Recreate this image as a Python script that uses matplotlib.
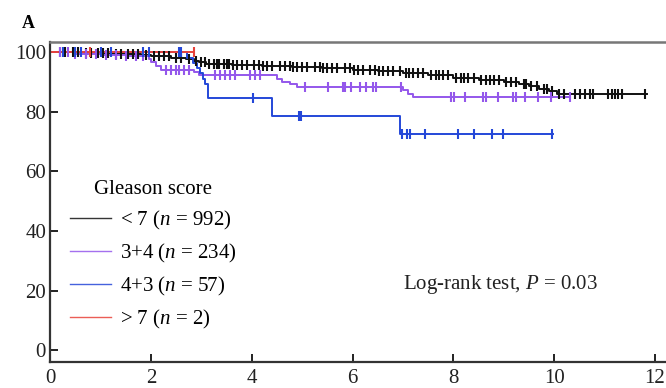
import numpy as np
import matplotlib.pyplot as plt
from matplotlib.lines import Line2D

plt.rcParams['font.family'] = ['Liberation Serif', 'DejaVu Serif']
plt.rcParams['mathtext.fontset'] = 'custom'
plt.rcParams['mathtext.rm'] = 'Liberation Serif'
plt.rcParams['mathtext.it'] = 'Liberation Serif:italic'

# Kaplan-Meier steps (time in years, survival in %)
black_t = [0, 0.6, 1.2, 1.8, 2.0, 2.4, 2.7, 2.85, 2.95, 3.1, 3.6, 4.2, 4.8, 5.4,
           6.0, 6.5, 7.0, 7.5, 8.0, 8.5, 9.0, 9.3, 9.5, 9.7, 9.9, 10.05, 11.85]
black_s = [100, 99.7, 99.4, 99.1, 98.6, 98.2, 97.7, 97.1, 96.6, 96.2, 95.8, 95.4,
           95.0, 94.6, 94.1, 93.6, 93.1, 92.3, 91.5, 90.7, 90.0, 89.4, 88.6, 87.7,
           86.9, 86.1, 86.1]
black_cens = [0.2, 0.3, 0.45, 0.55, 0.7, 0.8, 0.95, 1.05, 1.15, 1.3, 1.4, 1.55,
              1.65, 1.75, 1.9, 2.05, 2.15, 2.25, 2.35, 2.5, 2.6, 2.75, 2.9, 3.0,
              3.08, 3.15, 3.25, 3.3, 3.35, 3.45, 3.5, 3.55, 3.62, 3.7, 3.8, 3.9,
              4.05, 4.15, 4.22, 4.3, 4.4, 4.55, 4.65, 4.75, 4.82, 4.9, 5.0, 5.1,
              5.25, 5.35, 5.42, 5.5, 5.6, 5.7, 5.85, 5.95, 6.02, 6.1, 6.2, 6.35,
              6.45, 6.52, 6.6, 6.7, 6.8, 6.95, 7.05, 7.12, 7.2, 7.3, 7.4, 7.55,
              7.65, 7.72, 7.8, 7.9, 8.05, 8.15, 8.22, 8.3, 8.4, 8.55, 8.65, 8.72,
              8.8, 8.9, 9.05, 9.15, 9.25, 9.4, 9.45, 9.55, 9.65, 9.8, 9.85, 9.95,
              10.1, 10.2, 10.41, 10.51, 10.61, 10.71, 10.77, 11.07, 11.15, 11.21,
              11.27, 11.35, 11.8]

purple_t = [0, 0.5, 1.0, 1.5, 1.95, 2.0, 2.1, 2.2, 2.85, 2.95, 4.5, 4.6, 4.75,
            4.9, 7.0, 7.1, 7.2, 10.32]
purple_s = [100, 99.5, 99.0, 98.6, 97.6, 96.6, 95.5, 94.2, 93.3, 92.3, 91.2,
            90.1, 89.2, 88.5, 87.4, 86.1, 85.0, 85.0]
purple_cens = [0.2, 0.35, 0.5, 0.7, 0.9, 1.1, 1.3, 1.5, 1.7, 1.85, 2.3, 2.4,
               2.5, 2.55, 2.65, 2.75, 3.27, 3.37, 3.47, 3.57, 3.67, 3.96, 4.06,
               4.16, 5.05, 5.51, 5.81, 5.85, 5.97, 6.14, 6.26, 6.4, 6.46, 6.96,
               7.95, 8.01, 8.23, 8.59, 8.65, 8.88, 9.18, 9.24, 9.42, 9.68, 9.94,
               10.31]

blue_t = [0, 2.72, 2.84, 2.92, 2.97, 3.03, 3.08, 3.14, 4.4, 6.94, 9.97]
blue_s = [100, 98.2, 96.5, 94.7, 92.9, 91.2, 89.5, 84.5, 78.7, 72.5, 72.5]
blue_cens = [0.25, 0.5, 0.6, 1.0, 1.2, 1.85, 1.95, 2.55, 2.6, 4.02, 4.93, 4.98,
             6.98, 7.07, 7.14, 7.43, 8.1, 8.41, 8.76, 8.98, 9.95]

red_t = [0, 2.85]
red_s = [100, 100]
red_cens = [0.79, 2.85]

groups = [
    ("< 7 ($n$ = 992)", black_t, black_s, black_cens, "#111111"),
    ("3+4 ($n$ = 234)", purple_t, purple_s, purple_cens, "#9457eb"),
    ("4+3 ($n$ = 57)", blue_t, blue_s, blue_cens, "#2447d8"),
    ("> 7 ($n$ = 2)", red_t, red_s, red_cens, "#e8423a"),
]

fig = plt.figure(figsize=(6.66, 3.88), dpi=100)
ax = fig.add_axes([0.0755, 0.067, 0.9245, 0.825])

handles = []
for label, t, s, cens, col in groups:
    ax.step(t, s, where="post", color=col, lw=1.4, zorder=2)
    idx = np.searchsorted(t, cens, side="right") - 1
    ax.plot(cens, np.asarray(s)[idx], ls="none", marker="|", ms=7, mew=1.5,
            color=col, zorder=3)
    handles.append(Line2D([], [], color=col, lw=1.0, alpha=0.85))

ax.set_xlim(0, 12.22)
ax.set_ylim(-4, 103.5)
ax.set_xticks([0, 2, 4, 6, 8, 10, 12])
ax.set_yticks([0, 20, 40, 60, 80, 100])
ax.tick_params(direction="in", length=6, width=1.4, labelsize=15,
               colors="#222222", pad=3)
ax.tick_params(axis="x", pad=5)
for side in ("left", "bottom"):
    ax.spines[side].set_linewidth(1.6)
    ax.spines[side].set_color("#333333")
ax.spines["top"].set_linewidth(1.8)
ax.spines["top"].set_color("#777777")
ax.spines["right"].set_visible(False)

leg = ax.legend(handles, [g[0] for g in groups], title="Gleason score",
                loc="lower left", bbox_to_anchor=(0.008, 0.0525), frameon=False,
                fontsize=15, title_fontsize=15, handlelength=2.0,
                handletextpad=0.4, labelspacing=0.47, borderaxespad=0.3)
leg._legend_box.align = "center"

ax.text(8.94, 22.0, "Log-rank test, $P$ = 0.03", fontsize=15, ha="center",
        va="center", color="#222222")
fig.text(0.042, 0.94, "A", fontsize=13, fontweight="bold", ha="center",
         va="center")

fig.savefig("out.png", dpi=100)
